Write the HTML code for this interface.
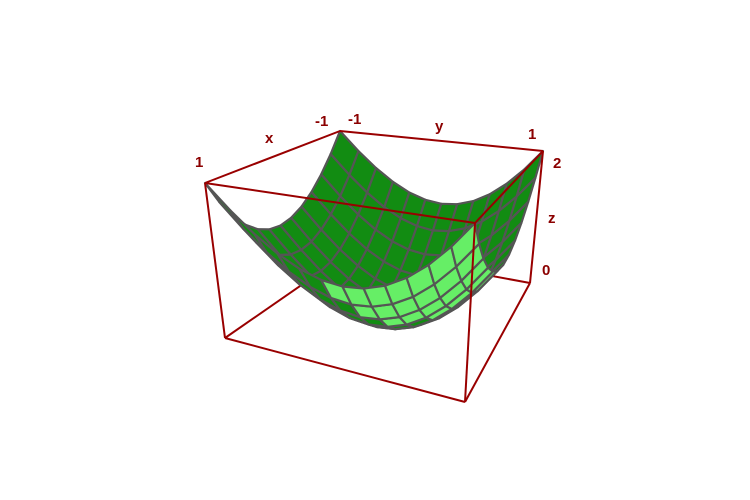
<!DOCTYPE html>
<html><head><meta charset="utf-8"><style>
html,body{margin:0;padding:0;background:#fff;}
svg{display:block;}
text{font-family:"Liberation Sans",sans-serif;font-weight:bold;font-size:15px;fill:#8b0000;}
</style></head><body>
<svg id="chart" width="750" height="500" viewBox="0 0 750 500">
<g id="box-back"></g>
<g id="surface"></g>
<g id="box-front"></g>
<g>
<text x="195" y="167">1</text>
<text x="265" y="143">x</text>
<text x="315" y="126">-1</text>
<text x="348" y="124">-1</text>
<text x="435" y="131">y</text>
<text x="528" y="139">1</text>
<text x="553" y="168">2</text>
<text x="548" y="223">z</text>
<text x="542" y="275">0</text>
</g>
</svg>
<script>
// grid values
const xValues = [-1,-0.8333,-0.6667,-0.5,-0.3333,-0.1667,0,0.1667,0.3333,0.5,0.6667,0.8333,1];
const yValues = [-1,-0.8333,-0.6667,-0.5,-0.3333,-0.1667,0,0.1667,0.3333,0.5,0.6667,0.8333,1];
const zRange = [0, 2];

const NS = "http://www.w3.org/2000/svg";
const TOP = {a:[205,183], b:[340,131], c:[543,151], d:[475,223]};
const BOT = {a:[225,338], b:[352,250], c:[530,283], d:[465,402]};
function lerp(p,q,t){return [p[0]+(q[0]-p[0])*t, p[1]+(q[1]-p[1])*t];}
function face(F,u,v){
  const p1 = lerp(F.a,F.b,u), p2 = lerp(F.d,F.c,u);
  return lerp(p1,p2,v);
}
function proj(x,y,z){
  const u=(1-x)/2, v=(y+1)/2, w=(z-zRange[0])/(zRange[1]-zRange[0]);
  return lerp(face(BOT,u,v), face(TOP,u,v), w);
}
const cam=[3,2,4];
function line(g,p,q,name){
  const l=document.createElementNS(NS,'line');
  l.setAttribute('x1',p[0]);l.setAttribute('y1',p[1]);l.setAttribute('x2',q[0]);l.setAttribute('y2',q[1]);
  l.setAttribute('stroke','#990000');l.setAttribute('stroke-width','2');
  
  
  g.appendChild(l);
}
const back=document.getElementById('box-back'), front=document.getElementById('box-front');
line(back,BOT.a,BOT.b,'box-edge');line(back,BOT.b,BOT.c,'box-edge');line(back,BOT.b,TOP.b,'box-edge');
const quads=[];
for(let i=0;i<xValues.length-1;i++){
  for(let j=0;j<yValues.length-1;j++){
    const pts=[[xValues[i],yValues[j]],[xValues[i+1],yValues[j]],[xValues[i+1],yValues[j+1]],[xValues[i],yValues[j+1]]]
      .map(p=>[p[0],p[1],p[0]*p[0]+p[1]*p[1]]);
    const cx=(pts[0][0]+pts[2][0])/2, cy=(pts[0][1]+pts[2][1])/2;
    const cz=pts.reduce((s,p)=>s+p[2],0)/4;
    const d=(cam[0]-cx)**2+(cam[1]-cy)**2+(cam[2]-cz)**2;
    const n=[-2*cx,-2*cy,1];
    const top=n[0]*(cam[0]-cx)+n[1]*(cam[1]-cy)+n[2]*(cam[2]-cz)>0;
    quads.push({pts,d,top});
  }
}
quads.sort((a,b)=>b.d-a.d);
const sg=document.getElementById('surface');
quads.forEach(q=>{
  const p=document.createElementNS(NS,'polygon');
  p.setAttribute('points',q.pts.map(t=>proj(t[0],t[1],t[2]).map(v=>v.toFixed(1)).join(',')).join(' '));
  p.setAttribute('fill',q.top?'#128c12':'#66ee66');
  p.setAttribute('stroke','#555555');p.setAttribute('stroke-width','2.2');p.setAttribute('stroke-linejoin','round');
  
  
  sg.appendChild(p);
});
line(front,TOP.a,TOP.b,'box-edge');line(front,TOP.b,TOP.c,'box-edge');
line(front,TOP.a,TOP.d,'box-edge');line(front,TOP.d,TOP.c,'box-edge');
line(front,TOP.a,BOT.a,'box-edge');line(front,TOP.d,BOT.d,'box-edge');line(front,TOP.c,BOT.c,'box-edge');
line(front,BOT.a,BOT.d,'box-edge');line(front,BOT.d,BOT.c,'box-edge');
</script>
</body></html>
